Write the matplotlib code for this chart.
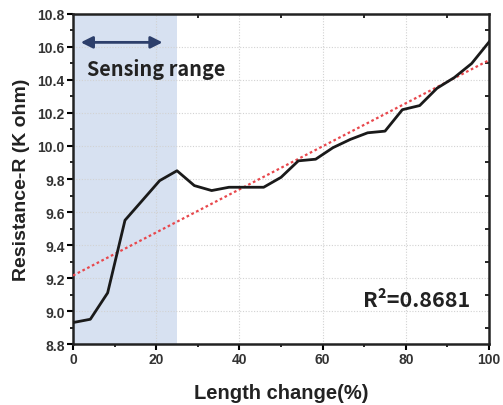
import numpy as np
import matplotlib
matplotlib.use("Agg")
import matplotlib.pyplot as plt
from matplotlib.ticker import MultipleLocator

length_change = [0, 4.17, 8.33, 12.5, 16.67, 20.83, 25, 29.17, 33.33, 37.5, 41.67, 45.83,
                 50, 54.17, 58.33, 62.5, 66.67, 70.83, 75, 79.17, 83.33, 87.5, 91.67, 95.83, 100]
resistance = [8.93, 8.95, 9.11, 9.55, 9.67, 9.79, 9.85, 9.76, 9.73, 9.75, 9.75, 9.75,
              9.81, 9.91, 9.92, 9.99, 10.04, 10.08, 10.09, 10.22, 10.245, 10.35, 10.415, 10.50, 10.63]
fit_start, fit_end = 9.215, 10.52
sensing_range = (0, 25)
r2_text = "R²=0.8681"
sensing_label = "Sensing range"
xlabel = "Length change(%)"
ylabel = "Resistance-R (K ohm)"
xticks = [0, 20, 40, 60, 80, 100]
yticks = [8.8, 9.0, 9.2, 9.4, 9.6, 9.8, 10.0, 10.2, 10.4, 10.6, 10.8]

plt.rcParams['font.family'] = ['Liberation Sans', 'DejaVu Sans']

fig = plt.figure(figsize=(5.03, 4.06), dpi=100)
ax = fig.add_axes([0.1451, 0.1502, 0.9722 - 0.1451, 0.9631 - 0.1502])

ax.axvspan(sensing_range[0], sensing_range[1], color='#d7e1f1', zorder=0.5, lw=0)
ax.plot([0, 100], [fit_start, fit_end], color='#e8474c', lw=1.6, ls=(0, (1.2, 1.2)), zorder=3)
ax.plot(length_change, resistance, color='#1a1a1a', lw=2.0, zorder=4)

ax.set_xlim(0, 100)
ax.set_ylim(8.8, 10.8)
ax.set_xticks(xticks)
ax.set_yticks(yticks)
ax.set_xticklabels([str(t) for t in xticks], fontweight='bold', fontsize=10, color='#333333')
ax.set_yticklabels([f"{t:.1f}" for t in yticks], fontweight='bold', fontsize=10, color='#333333')
ax.xaxis.set_minor_locator(MultipleLocator(10))
ax.yaxis.set_minor_locator(MultipleLocator(0.1))
ax.tick_params(which='major', direction='out', length=4, width=1.5, pad=2)
ax.tick_params(which='minor', direction='out', length=2.5, width=1.2)
ax.grid(True, which='major', color='#d2d2d2', ls=(0, (1, 1.5)), lw=0.8)

for s in ax.spines.values():
    s.set_linewidth(1.8)
    s.set_color('#222222')

# top / right minor ticks inward
secx = ax.secondary_xaxis('top')
secx.set_xticks([])
secx.xaxis.set_minor_locator(MultipleLocator(20, offset=10))
secx.tick_params(which='minor', direction='in', length=3, width=1.2)
secx.spines['top'].set_visible(False)
secy = ax.secondary_yaxis('right')
secy.set_yticks([])
secy.yaxis.set_minor_locator(MultipleLocator(0.2, offset=0.1))
secy.tick_params(which='minor', direction='in', length=3, width=1.2)
secy.spines['right'].set_visible(False)

ax.set_xlabel(xlabel, fontsize=14.5, fontweight='bold', color='#222222', labelpad=12)
ax.set_ylabel(ylabel, fontsize=14, fontweight='bold', color='#222222', labelpad=5)

ax.annotate('', xy=(1.2, 10.628), xytext=(22.2, 10.628),
            arrowprops=dict(arrowstyle='<|-|>,head_length=0.7,head_width=0.35',
                            color='#2d3f6b', lw=2), zorder=5)
ax.text(3.3, 10.47, sensing_label, fontsize=14.3, fontweight='bold', color='#222222',
        family=['Noto Sans CJK KR', 'DejaVu Sans'], va='center', ha='left', zorder=5)
ax.text(95.5, 9.07, r2_text, fontsize=15.5, fontweight='bold', color='#222222',
        family=['Noto Sans CJK KR', 'DejaVu Sans'], va='center', ha='right', zorder=5)

fig.savefig('out.png', dpi=100)
